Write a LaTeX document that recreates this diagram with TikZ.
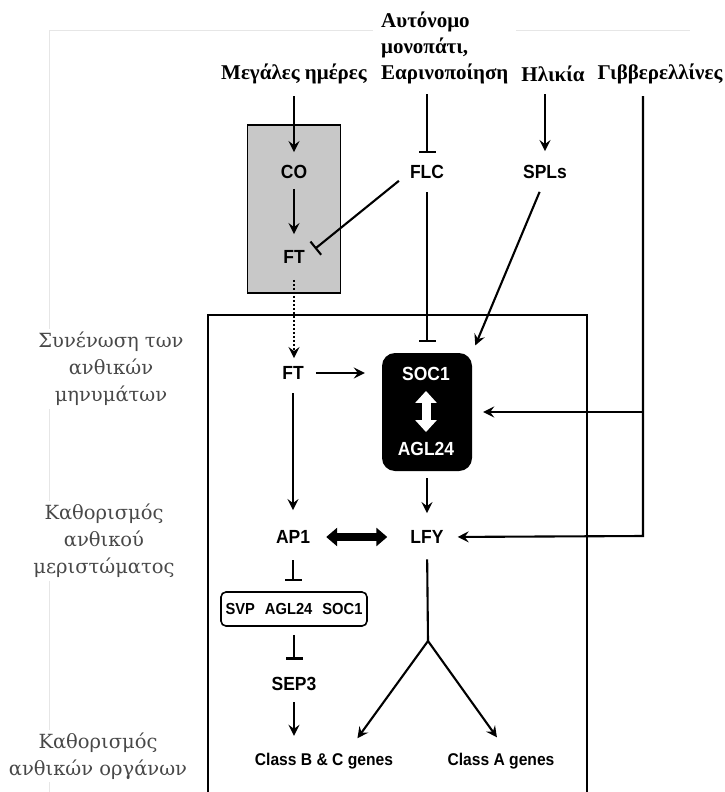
\documentclass[tikz,border=0pt]{standalone}
\usepackage{fontspec}
\setmainfont{Liberation Serif}
\newfontfamily\sidefont{DejaVu Serif}
\newfontfamily\genefont[FakeStretch=0.92]{Liberation Sans}
\usetikzlibrary{arrows.meta,calc}
\definecolor{sidegray}{RGB}{72,72,72}
\definecolor{boxgray}{RGB}{200,200,200}
\definecolor{faintgray}{RGB}{230,230,230}

\begin{document}
\begin{tikzpicture}[x=1pt,y=-1pt,
  conn/.style={line width=2.1pt},
  arr/.style={conn,-{Stealth[length=11pt,width=11pt,inset=4pt]}},
  inh/.style={conn,-{Bar[width=17pt]}},
  fatarr/.style={line width=8pt,{Triangle[width=18pt,length=11pt]}-{Triangle[width=18pt,length=11pt]}},
  whitearr/.style={white,line width=9pt,{Triangle[width=21pt,length=12pt]}-{Triangle[width=21pt,length=12pt]}},
  gene/.style={font=\genefont\bfseries\fontsize{19}{21}\selectfont,inner sep=0pt,text height=13.5pt,text depth=0pt},
  classlbl/.style={font=\genefont\bfseries\fontsize{17}{19}\selectfont,inner sep=0pt,text height=12pt,text depth=0pt},
  toplbl/.style={font=\bfseries\fontsize{21}{26}\selectfont,inner sep=0pt},
  sidelbl/.style={font=\sidefont\fontsize{19.5}{27}\selectfont,text=sidegray,align=center,fill=white,inner sep=3pt},
  faint/.style={faintgray,line width=1pt}
]
\useasboundingbox (0,0) rectangle (724,792);

% faint outer frame lines
\draw[faint] (49,792) -- (49,31) -- (690,31);

% main frame (open at the bottom)
\draw[conn] (208,800) -- (208,315) -- (587,315) -- (587,800);

% top input labels
\node[toplbl] (meg) at (294,74) {Μεγάλες ημέρες};
\node[toplbl,align=left,anchor=west,fill=white,inner xsep=8pt,inner ysep=3pt] (auto) at (373,48)
  {Αυτόνομο\\μονοπάτι,\\Εαρινοποίηση};
\node[toplbl] (hlik) at (553,74) {Ηλικία};
\node[toplbl] (gib) at (660,74) {Γιββερελλίνες};

% leaf box with CO and FT
\node[draw,line width=1.6pt,fill=boxgray,minimum width=93pt,minimum height=168pt] (leaf) at (294,209) {};
\node[gene] (CO) at (294,172) {CO};
\node[gene] (FT1) at (294,257) {FT};

\node[gene] (FLC) at (427,172) {FLC};
\node[gene] (SPLs) at (545,172) {SPLs};

% integrator box
\node[fill=black,rounded corners=13pt,minimum width=90pt,minimum height=118pt] (socbox) at (427,412) {};
\node[gene,text=white] (SOC1) at (426,374) {SOC1};
\node[gene,text=white] (AGL24) at (426,449) {AGL24};

\node[gene] (FT2) at (293,373) {FT};
\node[gene] (AP1) at (293,537) {AP1};
\node[gene] (LFY) at (427,537) {LFY};

\node[draw,line width=1.6pt,rounded corners=5pt,minimum width=146pt,minimum height=34pt,inner sep=0pt,
  font=\genefont\bfseries\fontsize{16}{18}\selectfont] (svp) at (294,609)
  {SVP\hspace{10pt}AGL24\hspace{10pt}SOC1};
\node[gene] (SEP3) at (294,684) {SEP3};

\node[classlbl] (BC) at (324,759) {Class B \& C genes};
\node[classlbl] (CA) at (501,759) {Class A genes};

\coordinate (gcorner) at (643,536);
\coordinate (fork) at (428,641);

% side labels
\node[sidelbl] (s1) at (111,369) {Συνένωση των\\ανθικών\\μηνυμάτων};
\node[sidelbl] (s2) at (104,541) {Καθορισμός\\ανθικού\\μεριστώματος};
\node[sidelbl] (s3) at (98,756) {Καθορισμός\\ανθικών οργάνων};

% connectors
\draw[arr,shorten <=12pt,shorten >=13pt] (meg.south) -- (CO.north);
\draw[arr,shorten <=10pt,shorten >=16pt] (CO.south) -- (FT1.north);
\draw[inh,shorten <=7pt,shorten >=12pt] (FLC |- auto.south) -- (FLC.north);
\draw[arr,shorten <=12pt,shorten >=14pt] (SPLs |- hlik.south) -- (SPLs.north);
\draw[inh,shorten <=14pt,shorten >=13pt] (FLC.west) -- (FT1.east);
\draw[inh,shorten <=13.5pt,shorten >=11pt] (FLC.south) -- (FLC |- socbox.north);
\draw[arr,shorten <=14pt,shorten >=8pt] (SPLs.south) -- (socbox.north east);
\draw[arr,dash pattern=on 2pt off 2pt,shorten <=16pt,shorten >=8pt] (FT1.south) -- (FT1 |- FT2.north);
\draw[arr,shorten <=12pt,shorten >=17pt] (FT2.east) -- (FT2 -| socbox.west);
\draw[arr,shorten <=12pt,shorten >=14pt] (gib.south -| gcorner) -- (gcorner) -- (LFY.east);
\draw[arr,shorten >=11pt] (gcorner |- socbox.east) -- (socbox.east);
\draw[whitearr,shorten <=10pt,shorten >=10pt] (SOC1.south) -- (AGL24.north);
\draw[arr,shorten <=13.5pt,shorten >=20pt] (FT2.south) -- (AP1.north);
\draw[arr,shorten <=7pt,shorten >=17pt] (socbox.south) -- (LFY.north);
\draw[fatarr,shorten <=16pt,shorten >=23pt] (AP1.east) -- (LFY.west);
\draw[inh,shorten <=16.5pt,shorten >=10pt] (AP1.south) -- (AP1 |- svp.north);
\draw[inh,shorten <=8pt,shorten >=17.5pt] (svp.south) -- (SEP3.north);
\draw[arr,shorten <=11.5pt,shorten >=17pt] (SEP3.south) -- (SEP3 |- BC.north);
\draw[conn,shorten <=15.5pt] (LFY.south) -- (fork);
\draw[arr,shorten >=18pt] (fork) -- ($(BC.north)!0.33!(BC.north east)$);
\draw[arr,shorten >=19pt] (fork) -- ($(CA.north)!0.13!(CA.north east)$);
\end{tikzpicture}
\end{document}
